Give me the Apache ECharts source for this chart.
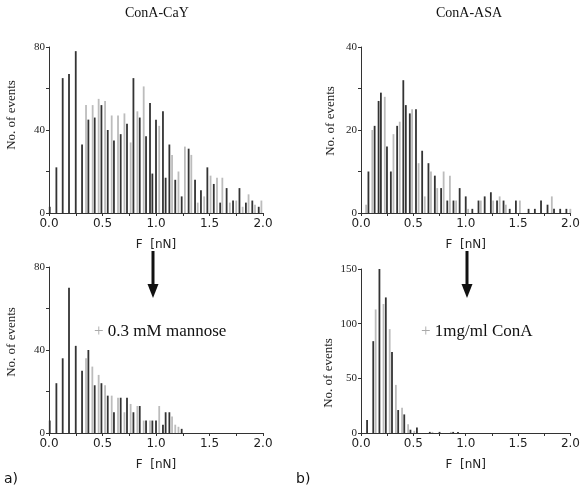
<!DOCTYPE html>
<html>
<head>
<meta charset="utf-8">
<script src="https://cdn.jsdelivr.net/npm/echarts@6/dist/echarts.min.js"></script>
<style>
  html, body { margin: 0; padding: 0; background: #fff; }
  #chart { width: 583px; height: 492px; }
</style>
</head>
<body>
<div id="chart"></div>
<script>
// Rupture-force histograms, each bin given as [force (nN), number of events].
// Adjacent bins are printed in alternating dark / light shades.

// ConA-CaY
const cayDark = [
  [0.007, 3], [0.069, 22], [0.128, 65], [0.187, 67], [0.25, 78], [0.309, 33],
  [0.368, 45], [0.427, 46], [0.49, 52], [0.549, 40], [0.607, 35], [0.67, 38],
  [0.729, 43], [0.789, 65], [0.848, 46], [0.907, 37], [0.944, 53], [0.966, 19],
  [1.00, 45], [1.065, 49], [1.09, 17], [1.125, 33], [1.18, 16], [1.24, 8],
  [1.305, 31], [1.365, 16], [1.42, 11], [1.48, 22], [1.54, 14], [1.60, 5],
  [1.66, 12], [1.72, 6], [1.78, 12], [1.84, 5], [1.90, 6], [1.96, 3]
];
const cayLight = [
  [0.346, 52], [0.408, 52], [0.464, 55], [0.524, 54], [0.586, 47], [0.645, 47],
  [0.705, 48], [0.763, 34], [0.826, 49], [0.885, 61], [1.03, 42], [1.15, 28],
  [1.21, 20], [1.27, 32], [1.33, 28], [1.39, 5], [1.45, 8], [1.51, 18],
  [1.57, 17], [1.62, 17], [1.69, 5], [1.75, 6], [1.81, 3], [1.865, 9],
  [1.925, 4], [1.985, 6]
];

// ConA-ASA
const asaDark = [
  [0.071, 10], [0.13, 21], [0.168, 27], [0.19, 29], [0.248, 16], [0.285, 10],
  [0.345, 21], [0.404, 32], [0.428, 26], [0.466, 24], [0.525, 25], [0.584, 15],
  [0.644, 12], [0.705, 9], [0.765, 6], [0.824, 3], [0.883, 3], [0.942, 6],
  [1.00, 4], [1.063, 1], [1.122, 3], [1.181, 4], [1.24, 5], [1.299, 3],
  [1.361, 3], [1.42, 1], [1.479, 3], [1.60, 1], [1.66, 1], [1.719, 3],
  [1.781, 2], [1.843, 1], [1.902, 1], [1.961, 1]
];
const asaLight = [
  [0.049, 2], [0.108, 20], [0.227, 28], [0.31, 19], [0.37, 22], [0.488, 25],
  [0.55, 12], [0.609, 4], [0.668, 10], [0.728, 6], [0.789, 10], [0.849, 9],
  [0.908, 3], [1.023, 1], [1.144, 3], [1.262, 3], [1.324, 4], [1.383, 2],
  [1.517, 3], [1.822, 4], [1.999, 1]
];

// ConA-CaY + 0.3 mM mannose
const mannoseDark = [
  [0.007, 6], [0.069, 24], [0.128, 36], [0.187, 70], [0.25, 42], [0.309, 30],
  [0.368, 40], [0.427, 23], [0.49, 24], [0.549, 18], [0.607, 10], [0.67, 17],
  [0.729, 17], [0.789, 10], [0.848, 13], [0.907, 6], [0.966, 6], [1.00, 6],
  [1.065, 4], [1.09, 10], [1.125, 10], [1.24, 2]
];
const mannoseLight = [
  [0.346, 36], [0.405, 32], [0.464, 28], [0.524, 23], [0.586, 18], [0.645, 17],
  [0.705, 10], [0.763, 14], [0.826, 13], [0.885, 6], [0.944, 6], [1.03, 13],
  [1.15, 8], [1.18, 4], [1.21, 3]
];

// ConA-ASA + 1 mg/ml ConA
const conaDark = [
  [0.058, 12], [0.117, 84], [0.176, 150], [0.237, 124], [0.296, 74], [0.355, 21],
  [0.413, 17], [0.472, 3], [0.534, 5], [0.657, 1], [0.75, 1], [0.88, 1], [0.926, 1]
];
const conaLight = [
  [0.14, 113], [0.215, 118], [0.274, 95], [0.333, 44], [0.392, 23], [0.45, 8],
  [0.509, 2], [0.682, 1], [0.858, 1]
];

const panelTitles = ['ConA-CaY', 'ConA-ASA'];
const treatments = ['0.3 mM mannose', '1mg/ml ConA'];
const panelTags = ['a)', 'b)'];
const forceName = 'F  [nN]';
const countName = 'No. of events';
const countMax = [80, 40, 80, 150];
const countTick = [20, 10, 20, 50];
const countLabelStep = [40, 20, 40, 50];

const DARK = '#333333';
const LIGHT = '#bcbcbc';
const AXIS = '#333';
const SERIF = '"Liberation Serif", "Times New Roman", serif';
const SANS = '"DejaVu Sans", sans-serif';

const grids = [
  { left: 49, top: 47, width: 214, height: 166 },
  { left: 361, top: 47, width: 214, height: 166 },
  { left: 49, top: 267, width: 214, height: 166 },
  { left: 361, top: 269, width: 216, height: 164 }
];

// vertical nudge of each rotated y-axis name (padding along the text direction)
const namePads = [[0, 0, 0, 30], [0, 0, 0, 18], [0, 0, 0, 16], [0, 44, 0, 0]];
const nameGaps = [31, 24, 31, 26];

const xAxes = grids.map((g, i) => ({
  type: 'value', gridIndex: i, min: 0, max: 2, interval: 0.25,
  name: forceName, nameLocation: 'middle', nameGap: 26,
  nameTextStyle: { fontFamily: SANS, fontSize: 12, color: '#222' },
  axisLine: { show: true, lineStyle: { color: AXIS, width: 1 } },
  axisTick: { show: true, inside: false, length: 3, lineStyle: { color: AXIS } },
  axisLabel: {
    margin: 5, fontFamily: SANS, fontSize: 12, color: '#222',
    formatter: v => (Math.round(v * 100) % 50 === 0 ? v.toFixed(1) : '')
  },
  splitLine: { show: false }
}));

const yAxes = grids.map((g, i) => ({
  type: 'value', gridIndex: i, min: 0, max: countMax[i], interval: countTick[i],
  name: countName, nameLocation: 'middle', nameGap: nameGaps[i],
  nameTextStyle: { fontFamily: SERIF, fontSize: 13, color: '#222', padding: namePads[i] },
  axisLine: { show: true, lineStyle: { color: AXIS, width: 1 } },
  axisTick: { show: true, inside: false, length: 3, lineStyle: { color: AXIS } },
  axisLabel: {
    margin: 4, fontFamily: SERIF, fontSize: 11, color: '#222',
    formatter: v => (v % countLabelStep[i] === 0 ? String(v) : '')
  },
  splitLine: { show: false }
}));

const histograms = [
  [cayDark, cayLight], [asaDark, asaLight],
  [mannoseDark, mannoseLight], [conaDark, conaLight]
];

const series = [];
histograms.forEach((pair, i) => {
  pair.forEach((bins, k) => {
    series.push({
      type: 'bar', xAxisIndex: i, yAxisIndex: i,
      data: bins, barWidth: 1.8, barGap: '-100%',
      itemStyle: { color: k === 0 ? DARK : LIGHT },
      silent: true, animation: false
    });
  });
});

// downward arrow between the upper and lower histogram
function arrow(x, y0, y1) {
  return {
    type: 'group', children: [
      { type: 'rect', shape: { x: x - 1.5, y: y0, width: 3, height: y1 - y0 - 12 },
        style: { fill: '#111' } },
      { type: 'polygon', shape: { points: [[x - 5.5, y1 - 14], [x + 5.5, y1 - 14], [x, y1]] },
        style: { fill: '#111' } }
    ]
  };
}

function treatmentText(x, y, label) {
  return {
    type: 'text', left: x, top: y,
    style: {
      text: '{p|+} ' + label,
      rich: { p: { fill: '#aaa', fontFamily: SERIF, fontSize: 17 } },
      fontFamily: SERIF, fontSize: 17, fill: '#111'
    }
  };
}

const graphic = [
  { type: 'text', left: 125, top: 6, style: { text: panelTitles[0], fontFamily: SERIF, fontSize: 14, fill: '#111' } },
  { type: 'text', left: 436, top: 6, style: { text: panelTitles[1], fontFamily: SERIF, fontSize: 14, fill: '#111' } },
  arrow(153, 251, 298),
  arrow(467, 251, 298),
  treatmentText(94, 323, treatments[0]),
  treatmentText(421, 323, treatments[1]),
  { type: 'text', left: 4, top: 472, style: { text: panelTags[0], fontFamily: SANS, fontSize: 14, fill: '#111' } },
  { type: 'text', left: 296, top: 472, style: { text: panelTags[1], fontFamily: SANS, fontSize: 14, fill: '#111' } }
];

const chart = echarts.init(document.getElementById('chart'), null, { renderer: 'canvas' });
chart.setOption({
  animation: false,
  backgroundColor: '#fff',
  grid: grids,
  xAxis: xAxes,
  yAxis: yAxes,
  series: series,
  graphic: graphic
});
</script>
</body>
</html>
